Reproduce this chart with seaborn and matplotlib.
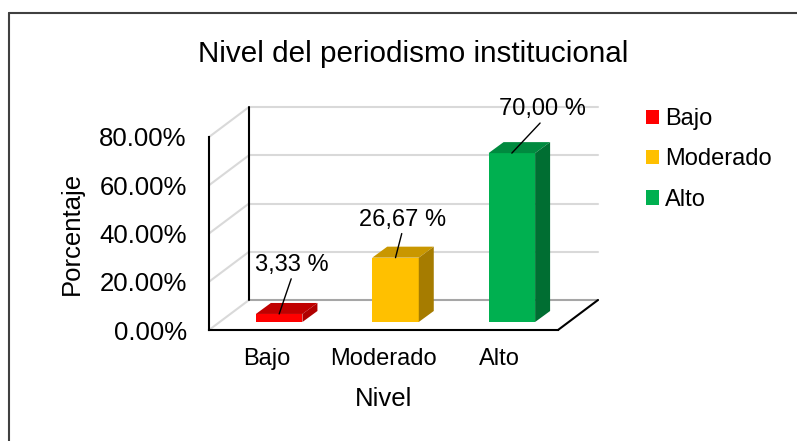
import matplotlib
matplotlib.use("Agg")
import matplotlib.pyplot as plt
from matplotlib.patches import Polygon, Patch
from matplotlib.lines import Line2D
from matplotlib.ticker import PercentFormatter
import seaborn as sns

# Datos del grafico
niveles = ["Bajo", "Moderado", "Alto"]
porcentajes = [0.0333, 0.2667, 0.70]
colores = ["#FF0000", "#FFC000", "#00B050"]
colores_top = ["#C00000", "#C99700", "#008A3F"]
colores_lado = ["#B00000", "#A67C00", "#006E32"]
y_ticks = [0, 0.2, 0.4, 0.6, 0.8]
titulo = "Nivel del periodismo institucional"

sns.set_theme(style="white")
plt.rcParams['font.family'] = ['Liberation Sans', 'DejaVu Sans']
plt.rcParams['text.color'] = 'black'
plt.rcParams['axes.labelcolor'] = 'black'

W, H = 797, 441
fig = plt.figure(figsize=(W / 100, H / 100), dpi=100)
ax = fig.add_axes([209 / W, 1 - 330 / H, 349 / W, 193 / H])

sns.barplot(x=niveles, y=porcentajes, hue=niveles, palette=colores,
            width=0.4, saturation=1, legend=False, ax=ax)
ax.set_xlim(-0.5, 2.5)
ax.set_ylim(0, 0.8)

# pixels -> data units
sx = 349 / 3
sy = 193 / 0.8
def dx(px):
    return px / sx
def dy(px):
    return px / sy

# Back wall, side wall and floor (fake 3D)
wx, wy = dx(40), dy(30)
for t in y_ticks:
    col = '#D9D9D9' if t > 0 else '#A6A6A6'
    ax.plot([-0.5 + wx, 2.5 + wx], [t + wy, t + wy], color=col, lw=1.5,
            clip_on=False, zorder=0.5)
    ax.plot([-0.5, -0.5 + wx], [t, t + wy], color='#D9D9D9', lw=1.5,
            clip_on=False, zorder=0.5)
ax.plot([-0.5 + wx] * 2, [wy, 0.8 + wy], color='black', lw=1.5, clip_on=False, zorder=0.6)
ax.plot([2.5, 2.5 + wx], [0, wy], color='black', lw=1.5, clip_on=False, zorder=0.6)

# Move bars into the middle of the depth and add top / side faces
bx, by = dx(15), dy(11)
for i, p in enumerate(ax.patches):
    p.set_x(p.get_x() + dx(12))
    p.set_y(dy(8))
    p.set_edgecolor('none')
    p.set_zorder(3)
    x0 = p.get_x()
    x1 = x0 + p.get_width()
    y0 = p.get_y()
    y1 = y0 + p.get_height()
    ax.add_patch(Polygon([(x0, y1), (x1, y1), (x1 + bx, y1 + by), (x0 + bx, y1 + by)],
                         closed=True, facecolor=colores_top[i], edgecolor='none',
                         clip_on=False, zorder=3))
    ax.add_patch(Polygon([(x1, y0), (x1 + bx, y0 + by), (x1 + bx, y1 + by), (x1, y1)],
                         closed=True, facecolor=colores_lado[i], edgecolor='none',
                         clip_on=False, zorder=3))

# Data labels with leader lines (offsets in px)
offsets = [(13, 38, 3), (7, 27, 3), (31, 33, 4)]
for i, p in enumerate(ax.patches[:3]):
    xc = p.get_x() + p.get_width() / 2
    yt = p.get_y() + p.get_height()
    ox, oy, sh = offsets[i]
    txt = f"{porcentajes[i] * 100:.2f} %".replace('.', ',')
    ax.annotate(txt, xy=(xc, yt), xytext=(ox * 0.72, oy * 0.72),
                textcoords='offset points', ha='center', va='bottom', fontsize=17,
                color='black', annotation_clip=False, zorder=4,
                arrowprops=dict(arrowstyle='-', color='black', lw=1,
                                relpos=(0.5, 0), patchA=None,
                                shrinkA=sh * 0.72, shrinkB=0))

# Axes styling
for s in ['top', 'right']:
    ax.spines[s].set_visible(False)
for s in ['left', 'bottom']:
    ax.spines[s].set_color('black')
    ax.spines[s].set_linewidth(1.5)
ax.set_facecolor('none')
ax.set_yticks(y_ticks)
ax.yaxis.set_major_formatter(PercentFormatter(xmax=1, decimals=2))
ax.tick_params(axis='y', length=0, pad=16, labelsize=18.5, labelcolor='black')
ax.tick_params(axis='x', length=0, pad=13, labelsize=17, labelcolor='black')
ax.set_xlabel('')
ax.set_ylabel('')

fig.text(413 / W, 1 - 62 / H, titulo, ha='center', va='baseline', fontsize=21.3, color='black')
fig.text(72 / W, 1 - 233 / H, 'Porcentaje', rotation=90, ha='center', va='center',
         fontsize=18.5, color='black')
fig.text(384 / W, 1 - 406 / H, 'Nivel', ha='center', va='baseline', fontsize=18.5, color='black')

handles = [Patch(facecolor=c, edgecolor='none', label=n) for n, c in zip(niveles, colores)]
fig.legend(handles=handles, loc='upper left', bbox_to_anchor=(646 / W, 1 - 108 / H),
           frameon=False, fontsize=17, handlelength=0.55, handleheight=0.55,
           handletextpad=0.25, labelspacing=0.78, borderpad=0, borderaxespad=0,
           labelcolor='black')

# Chart border (only top and left visible)
fig.add_artist(Line2D([9 / W, 1], [1 - 13 / H, 1 - 13 / H], transform=fig.transFigure,
                      color='#404040', lw=1.5))
fig.add_artist(Line2D([9 / W, 9 / W], [0, 1 - 13 / H], transform=fig.transFigure,
                      color='#404040', lw=1.5))

fig.savefig('out.png', dpi=100, facecolor='white')
